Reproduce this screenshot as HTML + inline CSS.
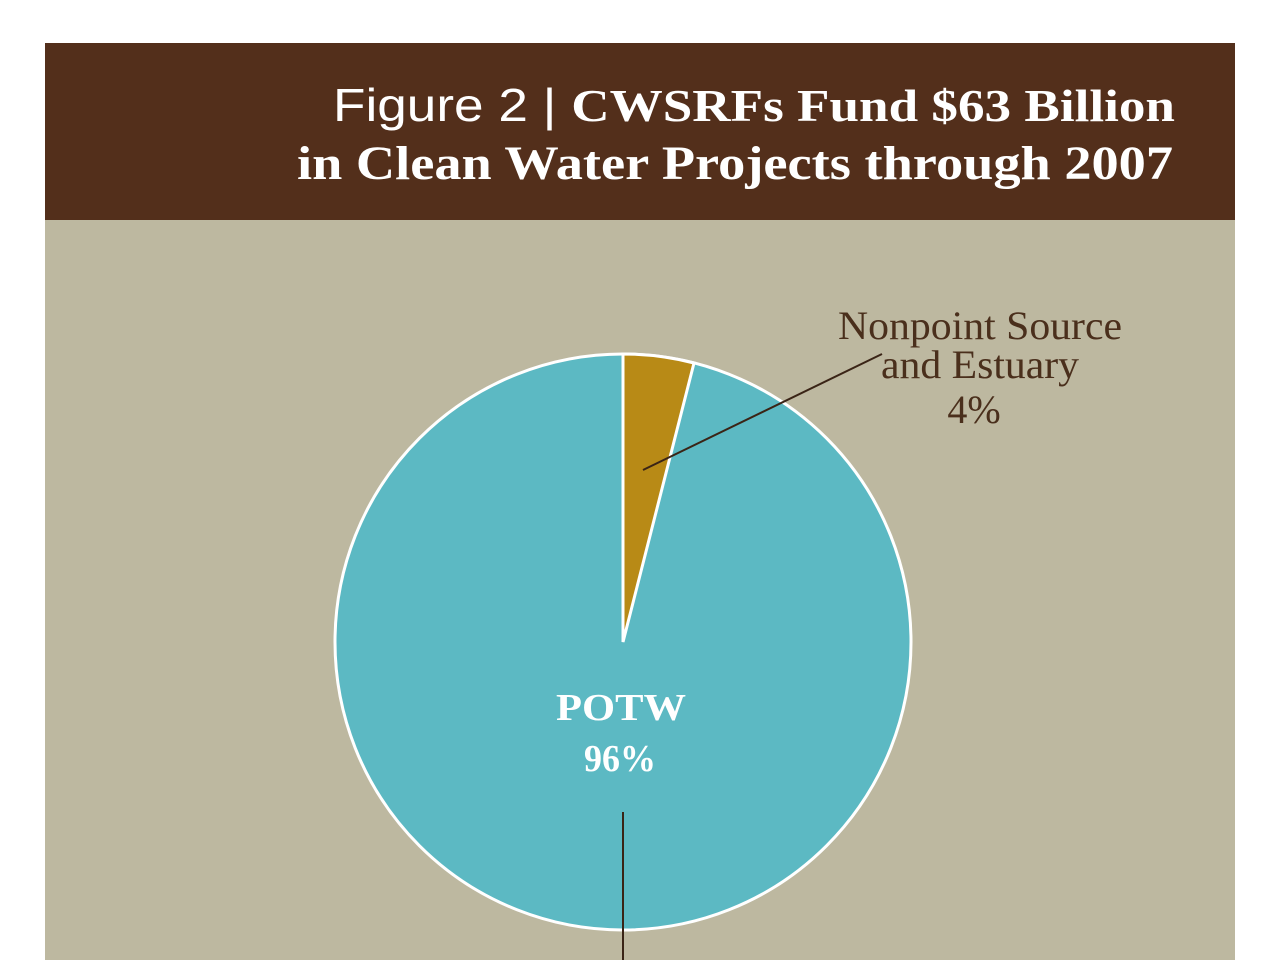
<!DOCTYPE html>
<html><head><style>
body{margin:0;width:1280px;height:960px;background:#fff;overflow:hidden;position:relative}
svg{position:absolute;left:0;top:0}
</style></head><body>
<svg width="1280" height="960" viewBox="0 0 1280 960">
<rect x="45" y="43" width="1190" height="917" fill="#bdb8a0"/>
<rect x="45" y="43" width="1190" height="177" fill="#532f1b"/>
<text x="333" y="121" fill="#fff" font-size="46" font-family="Liberation Serif, serif" textLength="842" lengthAdjust="spacingAndGlyphs"><tspan font-family="Liberation Sans, sans-serif" font-weight="normal">Figure 2 | </tspan><tspan font-weight="bold">CWSRFs Fund $63 Billion</tspan></text>
<text x="297" y="179" fill="#fff" font-size="48" font-weight="bold" font-family="Liberation Serif, serif" textLength="876" lengthAdjust="spacingAndGlyphs">in Clean Water Projects through 2007</text>
<circle cx="623" cy="642" r="288" fill="#5cb9c3" stroke="#fff" stroke-width="3"/>
<path d="M623,642 L623,354 A288,288 0 0 1 694,363 Z" fill="#b88a16" stroke="#fff" stroke-width="3"/>
<line x1="643" y1="470" x2="882" y2="354" stroke="#3a2416" stroke-width="2"/>
<line x1="623" y1="812" x2="623" y2="960" stroke="#3a2416" stroke-width="2"/>
<g font-family="Liberation Serif, serif" fill="#4a2f1c" font-size="40" text-anchor="middle">
<text x="980" y="339" textLength="284" lengthAdjust="spacingAndGlyphs">Nonpoint Source</text>
<text x="980" y="378" textLength="198" lengthAdjust="spacingAndGlyphs">and Estuary</text>
<text x="974" y="423">4%</text>
</g>
<g font-family="Liberation Serif, serif" fill="#fff" font-size="38" font-weight="bold" text-anchor="middle">
<text x="621" y="720" textLength="130" lengthAdjust="spacingAndGlyphs">POTW</text>
<text x="620" y="771" textLength="72" lengthAdjust="spacingAndGlyphs">96%</text>
</g>
</svg>
</body></html>
